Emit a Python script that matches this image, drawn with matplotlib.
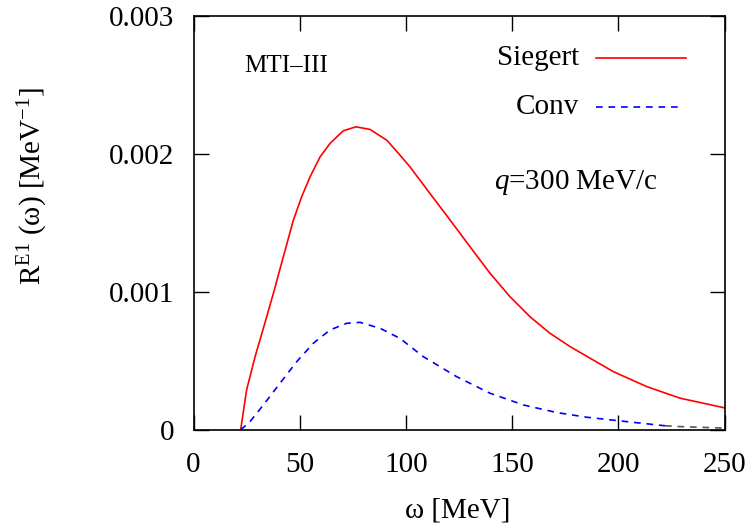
import numpy as np
import matplotlib.pyplot as plt

plt.rcParams['font.family'] = ['Liberation Serif', 'DejaVu Serif']
plt.rcParams['mathtext.fontset'] = 'custom'
plt.rcParams['mathtext.rm'] = 'Liberation Serif'
plt.rcParams['mathtext.it'] = 'Liberation Serif:italic'

# Siegert curve (omega in MeV, R in MeV^-1)
w_sieg = [22.2, 25.0, 29.0, 32.9, 37.6, 42.3, 47.0, 50.9, 54.9, 59.6, 64.3, 70.5,
          76.5, 83.1, 91.0, 97.2, 101.9, 111.3, 120.8, 130.2, 139.6, 149.0,
          158.4, 167.8, 177.3, 186.7, 197.6, 213.4, 229.1, 250.0]
r_sieg = [0.0, 0.00029, 0.000531, 0.000737, 0.00099, 0.001256, 0.00152, 0.00169,
          0.001836, 0.00198, 0.002078, 0.002169, 0.002198, 0.002179, 0.002101,
          0.001993, 0.001908, 0.001715, 0.001522, 0.001328, 0.001136, 0.000966,
          0.000821, 0.000701, 0.000604, 0.00052, 0.000423, 0.000314, 0.00023,
          0.000160]

# Conv curve
w_conv = [22.2, 26.6, 32.9, 40.7, 48.6, 56.4, 64.3, 72.1, 78.4, 87.8, 97.2,
          108.2, 123.9, 139.6, 155.3, 171.0, 185.1, 199.2, 222.0]
r_conv = [0.0, 0.00006, 0.000181, 0.000338, 0.000495, 0.000628, 0.000725,
          0.000773, 0.00078, 0.000737, 0.000664, 0.000531, 0.000386, 0.000266,
          0.000181, 0.000126, 0.000092, 0.000068, 0.000030]
# faint tail past 222 MeV
w_tail = [222.0, 229.0, 250.0]
r_tail = [0.000030, 0.000024, 0.000013]

fig = plt.figure(figsize=(7.5, 5.23), dpi=100)
ax = fig.add_axes([0.258, 0.178, 0.708, 0.791])

ax.plot(w_sieg, r_sieg, color='#ff0000', lw=1.2)
ax.plot(w_conv, r_conv, color='#0000ff', lw=1.2, dashes=(4, 3.5))
ax.plot(w_tail, r_tail, color='#555555', lw=1.2, dashes=(4, 3.5))

ax.set_xlim(0, 250)
ax.set_ylim(0, 0.003)
ax.set_xticks([0, 50, 100, 150, 200, 250])
ax.set_yticks([0, 0.001, 0.002, 0.003])
ax.set_yticklabels(['0', '0.001', '0.002', '0.003'])
ax.tick_params(direction='in', length=11, width=1.0, top=True, right=True,
               labelsize=21)
ax.tick_params(axis='x', pad=16)
ax.tick_params(axis='y', pad=14)
for s in ax.spines.values():
    s.set_linewidth(1.2)

fig.text(458 / 750, 1 - 510 / 523, 'ω [MeV]', ha='center', va='center', fontsize=21)
fig.text(33 / 750, 1 - 186 / 523, r'R$^{\rm E1}$ (ω) [MeV$^{-1}$]', ha='center',
         va='center', rotation=90, fontsize=21)

# legend drawn by hand
ax.text(0.726, 0.899, 'Siegert', transform=ax.transAxes, ha='right', va='center',
        fontsize=21)
ax.plot([0.758, 0.927], [0.899, 0.899], transform=ax.transAxes, color='#ff0000', lw=1.2)
ax.text(0.726, 0.780, 'Conv', transform=ax.transAxes, ha='right', va='center',
        fontsize=21)
ax.plot([0.758, 0.916], [0.780, 0.780], transform=ax.transAxes, color='#0000ff',
        lw=1.2, dashes=(4, 3.5))

ax.text(0.566, 0.599, r'$\mathit{q}$=300 MeV/c', transform=ax.transAxes,
        ha='left', va='center', fontsize=21)
ax.text(0.095, 0.879, 'MTI–III', transform=ax.transAxes, ha='left', va='center',
        fontsize=18)

fig.savefig('out.png', dpi=100)
